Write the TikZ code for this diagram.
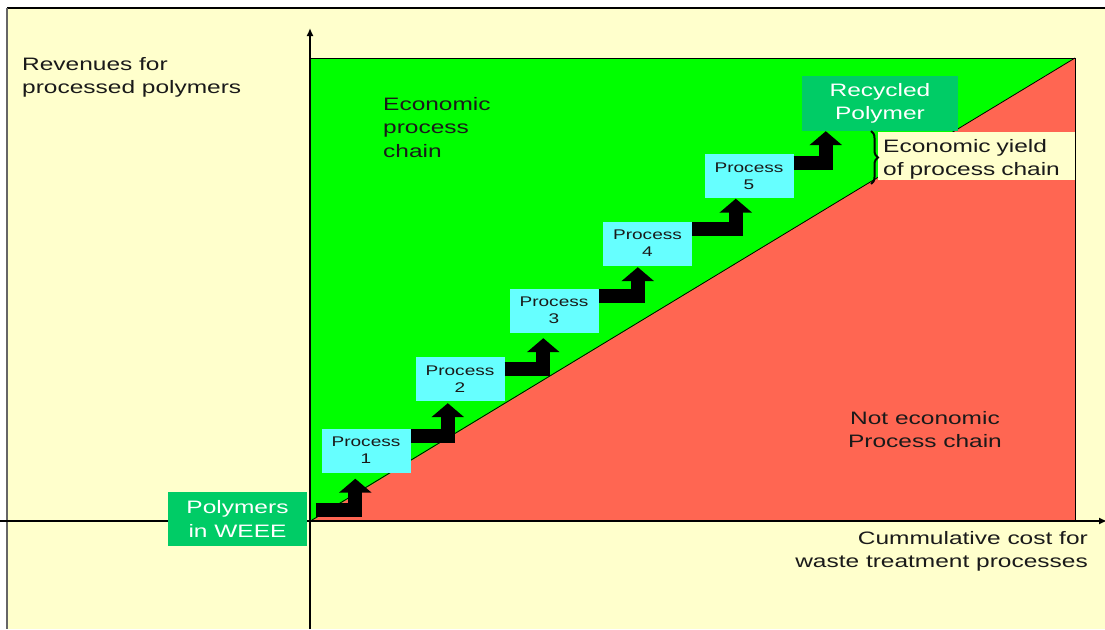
\documentclass[tikz,border=0pt]{standalone}
\usepackage{fontspec}
\setmainfont{Liberation Sans}[FakeStretch=1.36]
\usetikzlibrary{arrows.meta,calc,decorations.pathreplacing}
\definecolor{cream}{HTML}{FFFFCC}
\definecolor{ecogreen}{HTML}{00FF00}
\definecolor{lossred}{HTML}{FF6652}
\definecolor{proccyan}{HTML}{66FFFF}
\definecolor{stagegreen}{HTML}{00CC66}
\definecolor{ink}{HTML}{1A1A1A}
\begin{document}
\begin{tikzpicture}[x=1pt,y=-1pt,
  labeltext/.style={font=\fontsize{18}{23.5}\selectfont, inner sep=0pt, text=ink},
  processbox/.style={fill=proccyan, minimum width=89pt, minimum height=44pt,
    inner sep=0pt, align=center, text=ink, font=\fontsize{14}{17}\selectfont},
  stagebox/.style={fill=stagegreen, text=white, inner sep=0pt, align=center,
    font=\fontsize{18}{23.5}\selectfont},
  steparrow/.style={line width=14pt, line join=miter, black,
    -{Triangle[width=32pt,length=14pt]}},
  axisline/.style={line width=2.2pt, black, -{Latex[length=8pt,width=7pt]}}
]
\useasboundingbox (0,0) rectangle (1105,629);
% page and slide frame
\fill[white] (0,0) rectangle (1105,629);
\fill[cream] (7,8) rectangle (1105,629);
\draw[line width=1.5pt, black] (7,8) -- (1105,8);
\draw[line width=2pt, black!60] (7,8) -- (7,629);

% economic / not economic regions
\coordinate (O) at (310,521);
\coordinate (TR) at (1075,58);
\fill[ecogreen] (O) rectangle (TR);
\fill[lossred] (312,521) -- (TR) -- (1075,521) -- cycle;
\draw[line width=0.8pt, black] (310,58) -- (TR) -- (1075,521);
\draw[line width=0.8pt, black] (312,520) -- (TR);

% axes
\draw[axisline] (310,629) -- (310,28);
\draw[axisline] (0,521) -- (1107,521);

% axis and region labels
\node[labeltext, anchor=north west, align=left] (ylab) at (22,57)
  {Revenues for\\processed polymers};
\node[labeltext, anchor=north east, align=right] (xlab) at (1088,531)
  {Cummulative cost for\\waste treatment processes};
\node[labeltext, anchor=north west, align=left] (eco) at (383,97)
  {Economic\\process\\chain};
\node[labeltext, anchor=north, align=center] (noteco) at (925,411)
  {Not economic\\Process chain};

% start and end of the chain
\node[stagebox, minimum width=139pt, minimum height=54pt] (weee) at (237.5,519)
  {Polymers\\in WEEE};
\node[stagebox, minimum width=156pt, minimum height=55pt] (recy) at (880,103.5)
  {Recycled\\Polymer};

% economic yield annotation
\node[labeltext, fill=cream, anchor=north west, text width=187pt, inner xsep=5pt,
  minimum height=48pt, align=left] (yield) at (878,132)
  {\rule{0pt}{19pt}Economic yield\\of process chain};
\draw[line width=2pt, black, decorate, decoration={brace, amplitude=7pt}]
  (871,131) -- (871,184);

% process steps
\node[processbox] (P1) at (366,450.5) {Process\\1};
\node[processbox] (P2) at (460,379) {Process\\2};
\node[processbox] (P3) at (554,310.5) {Process\\3};
\node[processbox] (P4) at (647.5,243.5) {Process\\4};
\node[processbox] (P5) at (749,176) {Process\\5};

% step arrows between the stages
\draw[steparrow] ($(O)+(6,-11.5)$) -| ($(P1.south west)+(34,6)$);
\draw[steparrow] ($(P1.north east)+(0,7.5)$) -| ($(P2.south west)+(32.5,2)$);
\draw[steparrow] ($(P2.north east)+(0,12.5)$) -| ($(P3.south west)+(34,5.5)$);
\draw[steparrow] ($(P3.north east)+(0,8)$) -| ($(P4.south west)+(35,1.5)$);
\draw[steparrow] ($(P4.north east)+(0,7.5)$) -| ($(P5.south west)+(31.5,0.5)$);
\draw[steparrow] ($(P5.north east)+(0,9)$) -| ($(recy.south west)+(24,0)$);
\end{tikzpicture}
\end{document}
